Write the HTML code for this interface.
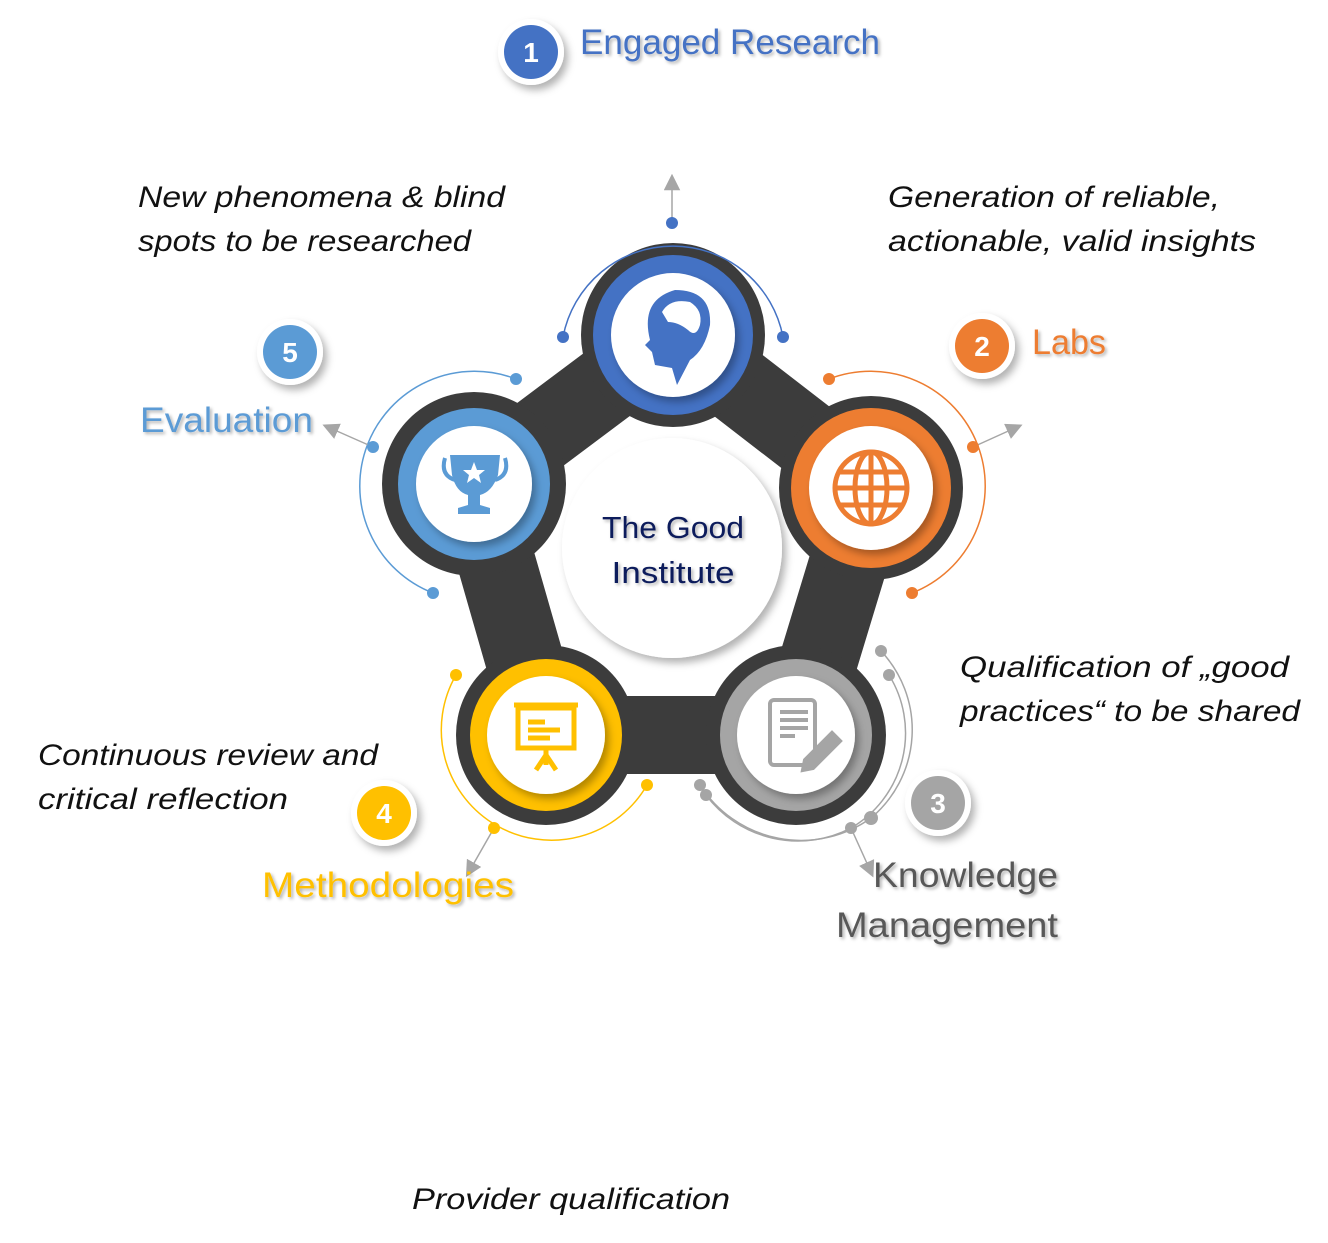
<!DOCTYPE html>
<html><head><meta charset="utf-8"><style>
html,body{margin:0;padding:0;background:#fff;}
svg{display:block}
.it{font-family:"Liberation Sans",sans-serif;font-style:italic;font-size:30px;fill:#111;}
.lb{font-family:"Liberation Sans",sans-serif;font-size:35px;}
</style></head><body>
<svg width="1328" height="1243" viewBox="0 0 1328 1243" xmlns="http://www.w3.org/2000/svg">
<defs>
<filter id="sh" x="-30%" y="-30%" width="160%" height="160%"><feDropShadow dx="4" dy="5" stdDeviation="4" flood-color="#000" flood-opacity="0.3"/></filter>
<filter id="ts" x="-10%" y="-20%" width="120%" height="140%"><feDropShadow dx="2" dy="2" stdDeviation="1.5" flood-color="#000" flood-opacity="0.3"/></filter>
<marker id="ar" viewBox="0 0 10 10" refX="5" refY="5" markerWidth="11" markerHeight="11" orient="auto"><path d="M0,0 L10,5 L0,10z" fill="#a6a6a6"/></marker>
</defs>

<!-- dark frame -->
<polygon points="673,335 871,488 796,735 546,735 474,484" fill="#fff" stroke="#3c3c3c" stroke-width="78" stroke-linejoin="round"/>
<circle cx="673" cy="335" r="92" fill="#3c3c3c"/>
<circle cx="871" cy="488" r="92" fill="#3c3c3c"/>
<circle cx="474" cy="484" r="92" fill="#3c3c3c"/>
<circle cx="546" cy="735" r="90" fill="#3c3c3c"/>
<circle cx="796" cy="735" r="90" fill="#3c3c3c"/>
<circle cx="672" cy="548" r="110" fill="#fff" filter="url(#sh)"/>
<text x="673" y="538" text-anchor="middle" font-family="Liberation Sans,sans-serif" font-size="31" fill="#0d1f5c" filter="url(#ts)" textLength="142" lengthAdjust="spacingAndGlyphs">The Good</text>
<text x="673" y="583" text-anchor="middle" font-family="Liberation Sans,sans-serif" font-size="31" fill="#0d1f5c" filter="url(#ts)" textLength="123" lengthAdjust="spacingAndGlyphs">Institute</text>

<!-- node rings -->
<circle cx="673" cy="335" r="80" fill="#4472c4"/><circle cx="673" cy="335" r="62" fill="#fff" filter="url(#sh)"/>
<circle cx="871" cy="488" r="80" fill="#ed7d31"/><circle cx="871" cy="488" r="62" fill="#fff" filter="url(#sh)"/>
<circle cx="474" cy="484" r="76" fill="#5b9bd5"/><circle cx="474" cy="484" r="58" fill="#fff" filter="url(#sh)"/>
<circle cx="546" cy="735" r="76" fill="#ffc000"/><circle cx="546" cy="735" r="59" fill="#fff" filter="url(#sh)"/>
<circle cx="796" cy="735" r="76" fill="#a5a5a5"/><circle cx="796" cy="735" r="59" fill="#fff" filter="url(#sh)"/>

<!-- icons -->
<path d="M650,340 Q640,300 675,290 Q712,290 710,325 Q705,350 690,360 L677,385 L672,368 L655,365 L652,352 L645,345 Z" fill="#4472c4"/>
<path d="M662,312 Q670,298 690,302 Q703,310 700,325 Q696,338 688,330 Q678,322 668,322 Z" fill="#fff"/>
<g fill="none" stroke="#ed7d31" stroke-width="5"><circle cx="871" cy="488" r="36"/><ellipse cx="871" cy="488" rx="16" ry="36"/><line x1="871" y1="452" x2="871" y2="524"/><line x1="835" y1="488" x2="907" y2="488"/><line x1="840" y1="472" x2="902" y2="472"/><line x1="840" y1="505" x2="902" y2="505"/></g>
<g fill="#5b9bd5"><path d="M450,455 L500,455 L498,475 Q492,492 480,495 L480,505 L490,508 L490,514 L458,514 L458,508 L468,505 L468,495 Q456,492 452,475 Z"/></g>
<path d="M445,458 Q440,475 455,480 M505,458 Q510,475 495,480" stroke="#5b9bd5" stroke-width="4" fill="none"/>
<polygon points="474,462 477,470 485,470 479,475 481,483 474,478 467,483 469,475 463,470 471,470" fill="#fff"/>
<g stroke="#ffc000" stroke-width="5" fill="none"><rect x="518" y="708" width="56" height="40"/><line x1="514" y1="705" x2="578" y2="705"/><line x1="546" y1="748" x2="546" y2="765"/><line x1="546" y1="755" x2="536" y2="770"/><line x1="546" y1="755" x2="556" y2="770"/><line x1="528" y1="722" x2="545" y2="722"/><line x1="528" y1="730" x2="560" y2="730"/><line x1="528" y1="738" x2="550" y2="738"/></g>
<g stroke="#a5a5a5" stroke-width="4" fill="none"><rect x="770" y="700" width="45" height="65" rx="4"/><line x1="780" y1="712" x2="808" y2="712"/><line x1="780" y1="720" x2="808" y2="720"/><line x1="780" y1="728" x2="808" y2="728"/><line x1="780" y1="736" x2="795" y2="736"/><path d="M805,760 L832,733 L840,741 L813,768 L803,770 Z" fill="#a5a5a5"/></g>

<!-- arcs -->
<g fill="none" stroke-width="1.5">
<path d="M563,337 A112,112 0 0 1 783,337" stroke="#4472c4"/>
<path d="M829,379 A112,112 0 0 1 912,593" stroke="#ed7d31"/>
<path d="M516,379 A112,112 0 0 0 433,593" stroke="#5b9bd5"/>
<path d="M456,675 A108,108 0 0 0 647,785" stroke="#ffc000"/>
<path d="M881,651 A115,115 0 0 1 871,818" stroke="#a5a5a5"/>
<path d="M889,675 A110,110 0 0 1 851,828" stroke="#a5a5a5"/>
<path d="M700,785 A120,120 0 0 0 871,818" stroke="#a5a5a5"/>
<path d="M706,795 A115,115 0 0 0 851,828" stroke="#a5a5a5"/>
</g>
<g stroke="#a6a6a6" stroke-width="1.5" marker-end="url(#ar)">
<line x1="672" y1="223" x2="672" y2="182"/>
<line x1="973" y1="447" x2="1015" y2="428"/>
<line x1="373" y1="447" x2="330" y2="428"/>
<line x1="494" y1="828" x2="470" y2="870"/>
<line x1="851" y1="828" x2="870" y2="870"/>
</g>
<g fill="#4472c4"><circle cx="563" cy="337" r="6"/><circle cx="783" cy="337" r="6"/><circle cx="672" cy="223" r="6"/></g>
<g fill="#ed7d31"><circle cx="829" cy="379" r="6"/><circle cx="973" cy="447" r="6"/><circle cx="912" cy="593" r="6"/></g>
<g fill="#5b9bd5"><circle cx="516" cy="379" r="6"/><circle cx="373" cy="447" r="6"/><circle cx="433" cy="593" r="6"/></g>
<g fill="#ffc000"><circle cx="456" cy="675" r="6"/><circle cx="494" cy="828" r="6"/><circle cx="647" cy="785" r="6"/></g>
<g fill="#a5a5a5"><circle cx="881" cy="651" r="6"/><circle cx="889" cy="675" r="6"/><circle cx="871" cy="818" r="7"/><circle cx="851" cy="828" r="6"/><circle cx="700" cy="785" r="6"/><circle cx="706" cy="795" r="6"/></g>

<!-- badges -->
<g font-family="Liberation Sans,sans-serif" font-weight="bold" font-size="28" fill="#fff" text-anchor="middle">
<circle cx="531" cy="52" r="33" fill="#fff" filter="url(#sh)"/><circle cx="531" cy="52" r="27" fill="#4472c4"/><text x="531" y="62">1</text>
<circle cx="982" cy="346" r="33" fill="#fff" filter="url(#sh)"/><circle cx="982" cy="346" r="27" fill="#ed7d31"/><text x="982" y="356">2</text>
<circle cx="938" cy="803" r="33" fill="#fff" filter="url(#sh)"/><circle cx="938" cy="803" r="27" fill="#a5a5a5"/><text x="938" y="813">3</text>
<circle cx="384" cy="813" r="33" fill="#fff" filter="url(#sh)"/><circle cx="384" cy="813" r="27" fill="#ffc000"/><text x="384" y="823">4</text>
<circle cx="290" cy="352" r="33" fill="#fff" filter="url(#sh)"/><circle cx="290" cy="352" r="27" fill="#5b9bd5"/><text x="290" y="362">5</text>
</g>

<!-- labels -->
<text class="lb" x="580" y="54" fill="#4472c4" filter="url(#ts)" textLength="300" lengthAdjust="spacingAndGlyphs">Engaged Research</text>
<text class="lb" x="1032" y="354" fill="#ed7d31" filter="url(#ts)" textLength="74" lengthAdjust="spacingAndGlyphs">Labs</text>
<text class="lb" x="140" y="432" fill="#5b9bd5" filter="url(#ts)" textLength="173" lengthAdjust="spacingAndGlyphs">Evaluation</text>
<text class="lb" x="262" y="897" fill="#ffc000" filter="url(#ts)" textLength="252" lengthAdjust="spacingAndGlyphs">Methodologies</text>
<text class="lb" x="873" y="887" fill="#595959" filter="url(#ts)" textLength="185" lengthAdjust="spacingAndGlyphs">Knowledge</text>
<text class="lb" x="836" y="937" fill="#595959" filter="url(#ts)" textLength="222" lengthAdjust="spacingAndGlyphs">Management</text>

<g lengthAdjust="spacingAndGlyphs">
<text class="it" x="138" y="207" textLength="367" lengthAdjust="spacingAndGlyphs">New phenomena &amp; blind</text>
<text class="it" x="138" y="251" textLength="333" lengthAdjust="spacingAndGlyphs">spots to be researched</text>
<text class="it" x="888" y="207" textLength="332" lengthAdjust="spacingAndGlyphs">Generation of reliable,</text>
<text class="it" x="888" y="251" textLength="368" lengthAdjust="spacingAndGlyphs">actionable, valid insights</text>
<text class="it" x="960" y="677" textLength="329" lengthAdjust="spacingAndGlyphs">Qualification of „good</text>
<text class="it" x="960" y="721" textLength="340" lengthAdjust="spacingAndGlyphs">practices“ to be shared</text>
<text class="it" x="38" y="765" textLength="340" lengthAdjust="spacingAndGlyphs">Continuous review and</text>
<text class="it" x="38" y="809" textLength="250" lengthAdjust="spacingAndGlyphs">critical reflection</text>
<text class="it" x="412" y="1209" textLength="318" lengthAdjust="spacingAndGlyphs">Provider qualification</text>
</g>
</svg>
</body></html>
